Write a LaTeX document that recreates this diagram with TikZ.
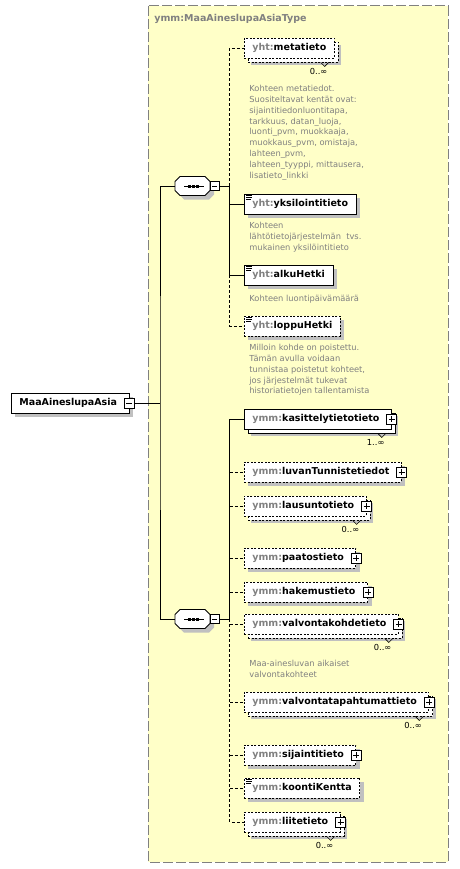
\documentclass[tikz,border=0pt]{standalone}
\usepackage{fontspec}
\setmainfont{DejaVu Sans}
\usetikzlibrary{shadows}

\definecolor{typefill}{RGB}{255,255,200}
\definecolor{typeline}{RGB}{128,128,128}
\definecolor{pfxgray}{RGB}{128,128,128}
\definecolor{shadegray}{RGB}{192,192,192}

\begin{document}
\begin{tikzpicture}
	[x=1pt,y=-1pt,line width=0.8pt,
	typebox/.style={draw=typeline,fill=typefill,line width=1pt,dash pattern=on 10pt off 3pt},
	elem/.style={draw,fill=white,anchor=west,minimum height=20pt,inner xsep=8pt,inner ysep=0pt,font=\fontsize{9.5}{11}\selectfont\bfseries},
	single/.style={drop shadow={shadow xshift=4pt,shadow yshift=-4pt,fill=shadegray,opacity=1,draw=none}},
	multi/.style={drop shadow={shadow xshift=7pt,shadow yshift=-7pt,fill=shadegray,opacity=1,draw=none},
		copy shadow={shadow xshift=4pt,shadow yshift=-4pt,fill=white,draw=black,#1}},
	multi/.default=solid,
	optline/.style={dash pattern=on 2pt off 1.5pt},
	optlink/.style={dash pattern=on 3pt off 2pt},
	hasplus/.style={execute at end node={\hspace{4pt}}},
	simple/.style={path picture={
		\draw[solid] ([shift={(2,1.5)}]path picture bounding box.north west) -- ++(6,0);
		\draw[solid] ([shift={(2,3.5)}]path picture bounding box.north west) -- ++(6,0);
		\draw[solid] ([shift={(2,5.5)}]path picture bounding box.north west) -- ++(5,0);}},
	minusbox/.style={draw,fill=white,minimum size=10pt,inner sep=0pt,
		path picture={\draw ([xshift=2pt]path picture bounding box.west) -- ([xshift=-2pt]path picture bounding box.east);}},
	plusbox/.style={draw,fill=white,minimum size=10pt,inner sep=0pt,
		path picture={\draw ([xshift=2pt]path picture bounding box.west) -- ([xshift=-2pt]path picture bounding box.east);
			\draw ([yshift=-2pt]path picture bounding box.north) -- ([yshift=2pt]path picture bounding box.south);}},
	seqpic/.pic={
		\draw[fill=white,single] (-12.5,-9.5) -- (12.5,-9.5) -- (17.5,-4.5) -- (17.5,4.5) -- (12.5,9.5)
			-- (-12.5,9.5) -- (-17.5,4.5) -- (-17.5,-4.5) -- cycle;
		\draw (-8.5,0) -- (11.5,0);
		\fill[black] (-4.5,-1.5) rectangle ++(3,3);
		\fill[black] (-0.5,-1.5) rectangle ++(3,3);
		\fill[black] (3.5,-1.5) rectangle ++(3,3);
		\node[minusbox,minimum size=9pt,anchor=west] (-minus) at (17.5,0) {};
		\coordinate (-west) at (-17.5,0);},
	occ/.style={anchor=north east,inner sep=0pt,font=\fontsize{8.3}{10}\selectfont},
	desc/.style={anchor=north west,inner sep=0pt,align=left,text=pfxgray,font=\fontsize{8.3}{10.8}\selectfont}]

	\useasboundingbox (0,0) rectangle (459,869);

	%Type
	\draw[typebox] (148,6) rectangle (448,862);
	\node[anchor=west,inner sep=0pt,text=pfxgray,font=\fontsize{9.5}{11}\selectfont\bfseries] (typetitle) at (154,19) {ymm:MaaAineslupaAsiaType};

	%Root
	\node[elem,single,hasplus] (root) at (11,403) {MaaAineslupaAsia};
	\node[minusbox] (rootminus) at (root.east) {};
	\coordinate (rootbus) at (160,403);

	%Sequences
	\pic (seqA) at (192.5,186) {seqpic};
	\pic (seqB) at (192.5,619) {seqpic};
	\coordinate (busA) at ([xshift=10pt]seqA-minus.east);
	\coordinate (busB) at ([xshift=10pt]seqB-minus.east);

	\draw (rootminus.east) -- (rootbus);
	\draw (seqA-west) -| (rootbus) |- (seqB-west);

	%yht elements
	\node[elem,optline,multi=optline] (meta) at (244,48) {\textcolor{pfxgray}{yht:}metatieto};
	\node[occ] (metaocc) at ([xshift=-7pt,yshift=-10pt]meta.south east) {0..∞};
	\draw[line width=0.6pt] ([xshift=-10pt,yshift=-4pt]meta.south east) ++(-4,0) -- ++(4,4) -- ++(4,-4);
	\node[desc] (metadesc) at (249,85) {Kohteen metatiedot.\\Suositeltavat kentät ovat:\\sijaintitiedonluontitapa,\\tarkkuus, datan\_luoja,\\luonti\_pvm, muokkaaja,\\muokkaus\_pvm, omistaja,\\lahteen\_pvm,\\lahteen\_tyyppi, mittausera,\\lisatieto\_linkki};

	\node[elem,single,simple] (yks) at (244,204) {\textcolor{pfxgray}{yht:}yksilointitieto};
	\node[desc] (yksdesc) at (249,222) {Kohteen\\lähtötietojärjestelmän\ \ tvs.\\mukainen yksilöintitieto};

	\node[elem,single,simple] (alku) at (244,275) {\textcolor{pfxgray}{yht:}alkuHetki};
	\node[desc] (alkudesc) at (249,295) {Kohteen luontipäivämäärä};

	\node[elem,optline,single,simple] (loppu) at (244,326) {\textcolor{pfxgray}{yht:}loppuHetki};
	\node[desc] (loppudesc) at (249,344) {Milloin kohde on poistettu.\\Tämän avulla voidaan\\tunnistaa poistetut kohteet,\\jos järjestelmät tukevat\\historiatietojen tallentamista};

	\draw[optlink] (busA) |- (meta.west);
	\draw (seqA-minus.east) -- (busA) |- (yks.west);
	\draw (busA) |- (alku.west);
	\draw[optlink] (busA |- alku.west) |- (loppu.west);

	%ymm elements
	\node[elem,multi,hasplus] (kas) at (244,419) {\textcolor{pfxgray}{ymm:}kasittelytietotieto};
	\node[plusbox] (kasplus) at (kas.east) {};
	\node[occ] (kasocc) at ([xshift=-7pt,yshift=-10pt]kas.south east) {1..∞};
	\draw[line width=0.6pt] ([xshift=-10pt,yshift=-4pt]kas.south east) ++(-4,0) -- ++(4,4) -- ++(4,-4);

	\node[elem,optline,single,hasplus] (luvan) at (244,472) {\textcolor{pfxgray}{ymm:}luvanTunnistetiedot};
	\node[plusbox] (luvanplus) at (luvan.east) {};

	\node[elem,optline,multi=optline,hasplus] (lausunto) at (244,506) {\textcolor{pfxgray}{ymm:}lausuntotieto};
	\node[plusbox] (lausuntoplus) at (lausunto.east) {};
	\node[occ] (lausuntoocc) at ([xshift=-7pt,yshift=-10pt]lausunto.south east) {0..∞};
	\draw[line width=0.6pt] ([xshift=-10pt,yshift=-4pt]lausunto.south east) ++(-4,0) -- ++(4,4) -- ++(4,-4);

	\node[elem,optline,single,hasplus] (paatos) at (244,558) {\textcolor{pfxgray}{ymm:}paatostieto};
	\node[plusbox] (paatosplus) at (paatos.east) {};

	\node[elem,optline,single,hasplus] (hakemus) at (244,592) {\textcolor{pfxgray}{ymm:}hakemustieto};
	\node[plusbox] (hakemusplus) at (hakemus.east) {};

	\node[elem,optline,multi=optline,hasplus] (valvk) at (244,624) {\textcolor{pfxgray}{ymm:}valvontakohdetieto};
	\node[plusbox] (valvkplus) at (valvk.east) {};
	\node[occ] (valvkocc) at ([xshift=-7pt,yshift=-10pt]valvk.south east) {0..∞};
	\draw[line width=0.6pt] ([xshift=-10pt,yshift=-4pt]valvk.south east) ++(-4,0) -- ++(4,4) -- ++(4,-4);
	\node[desc] (valvkdesc) at (249,660) {Maa-ainesluvan aikaiset\\valvontakohteet};

	\node[elem,optline,multi=optline,hasplus] (valvt) at (244,702) {\textcolor{pfxgray}{ymm:}valvontatapahtumattieto};
	\node[plusbox] (valvtplus) at (valvt.east) {};
	\node[occ] (valvtocc) at ([xshift=-7pt,yshift=-10pt]valvt.south east) {0..∞};
	\draw[line width=0.6pt] ([xshift=-10pt,yshift=-4pt]valvt.south east) ++(-4,0) -- ++(4,4) -- ++(4,-4);

	\node[elem,optline,single,hasplus] (sijainti) at (244,755) {\textcolor{pfxgray}{ymm:}sijaintitieto};
	\node[plusbox] (sijaintiplus) at (sijainti.east) {};

	\node[elem,optline,single,simple] (koonti) at (244,788) {\textcolor{pfxgray}{ymm:}koontiKentta};

	\node[elem,optline,multi=optline,hasplus] (liite) at (244,822) {\textcolor{pfxgray}{ymm:}liitetieto};
	\node[plusbox] (liiteplus) at (liite.east) {};
	\node[occ] (liiteocc) at ([xshift=-7pt,yshift=-10pt]liite.south east) {0..∞};
	\draw[line width=0.6pt] ([xshift=-10pt,yshift=-4pt]liite.south east) ++(-4,0) -- ++(4,4) -- ++(4,-4);

	\draw (seqB-minus.east) -- (busB) |- (kas.west);
	\draw[optlink] (busB |- luvan.west) -- (luvan.west);
	\draw[optlink] (busB |- lausunto.west) -- (lausunto.west);
	\draw[optlink] (busB |- paatos.west) -- (paatos.west);
	\draw[optlink] (busB |- hakemus.west) -- (hakemus.west);
	\draw[optlink] (busB |- valvk.west) -- (valvk.west);
	\draw[optlink] (busB |- valvt.west) -- (valvt.west);
	\draw[optlink] (busB |- sijainti.west) -- (sijainti.west);
	\draw[optlink] (busB |- koonti.west) -- (koonti.west);
	\draw[optlink] (busB) |- (liite.west);
\end{tikzpicture}
\end{document}
